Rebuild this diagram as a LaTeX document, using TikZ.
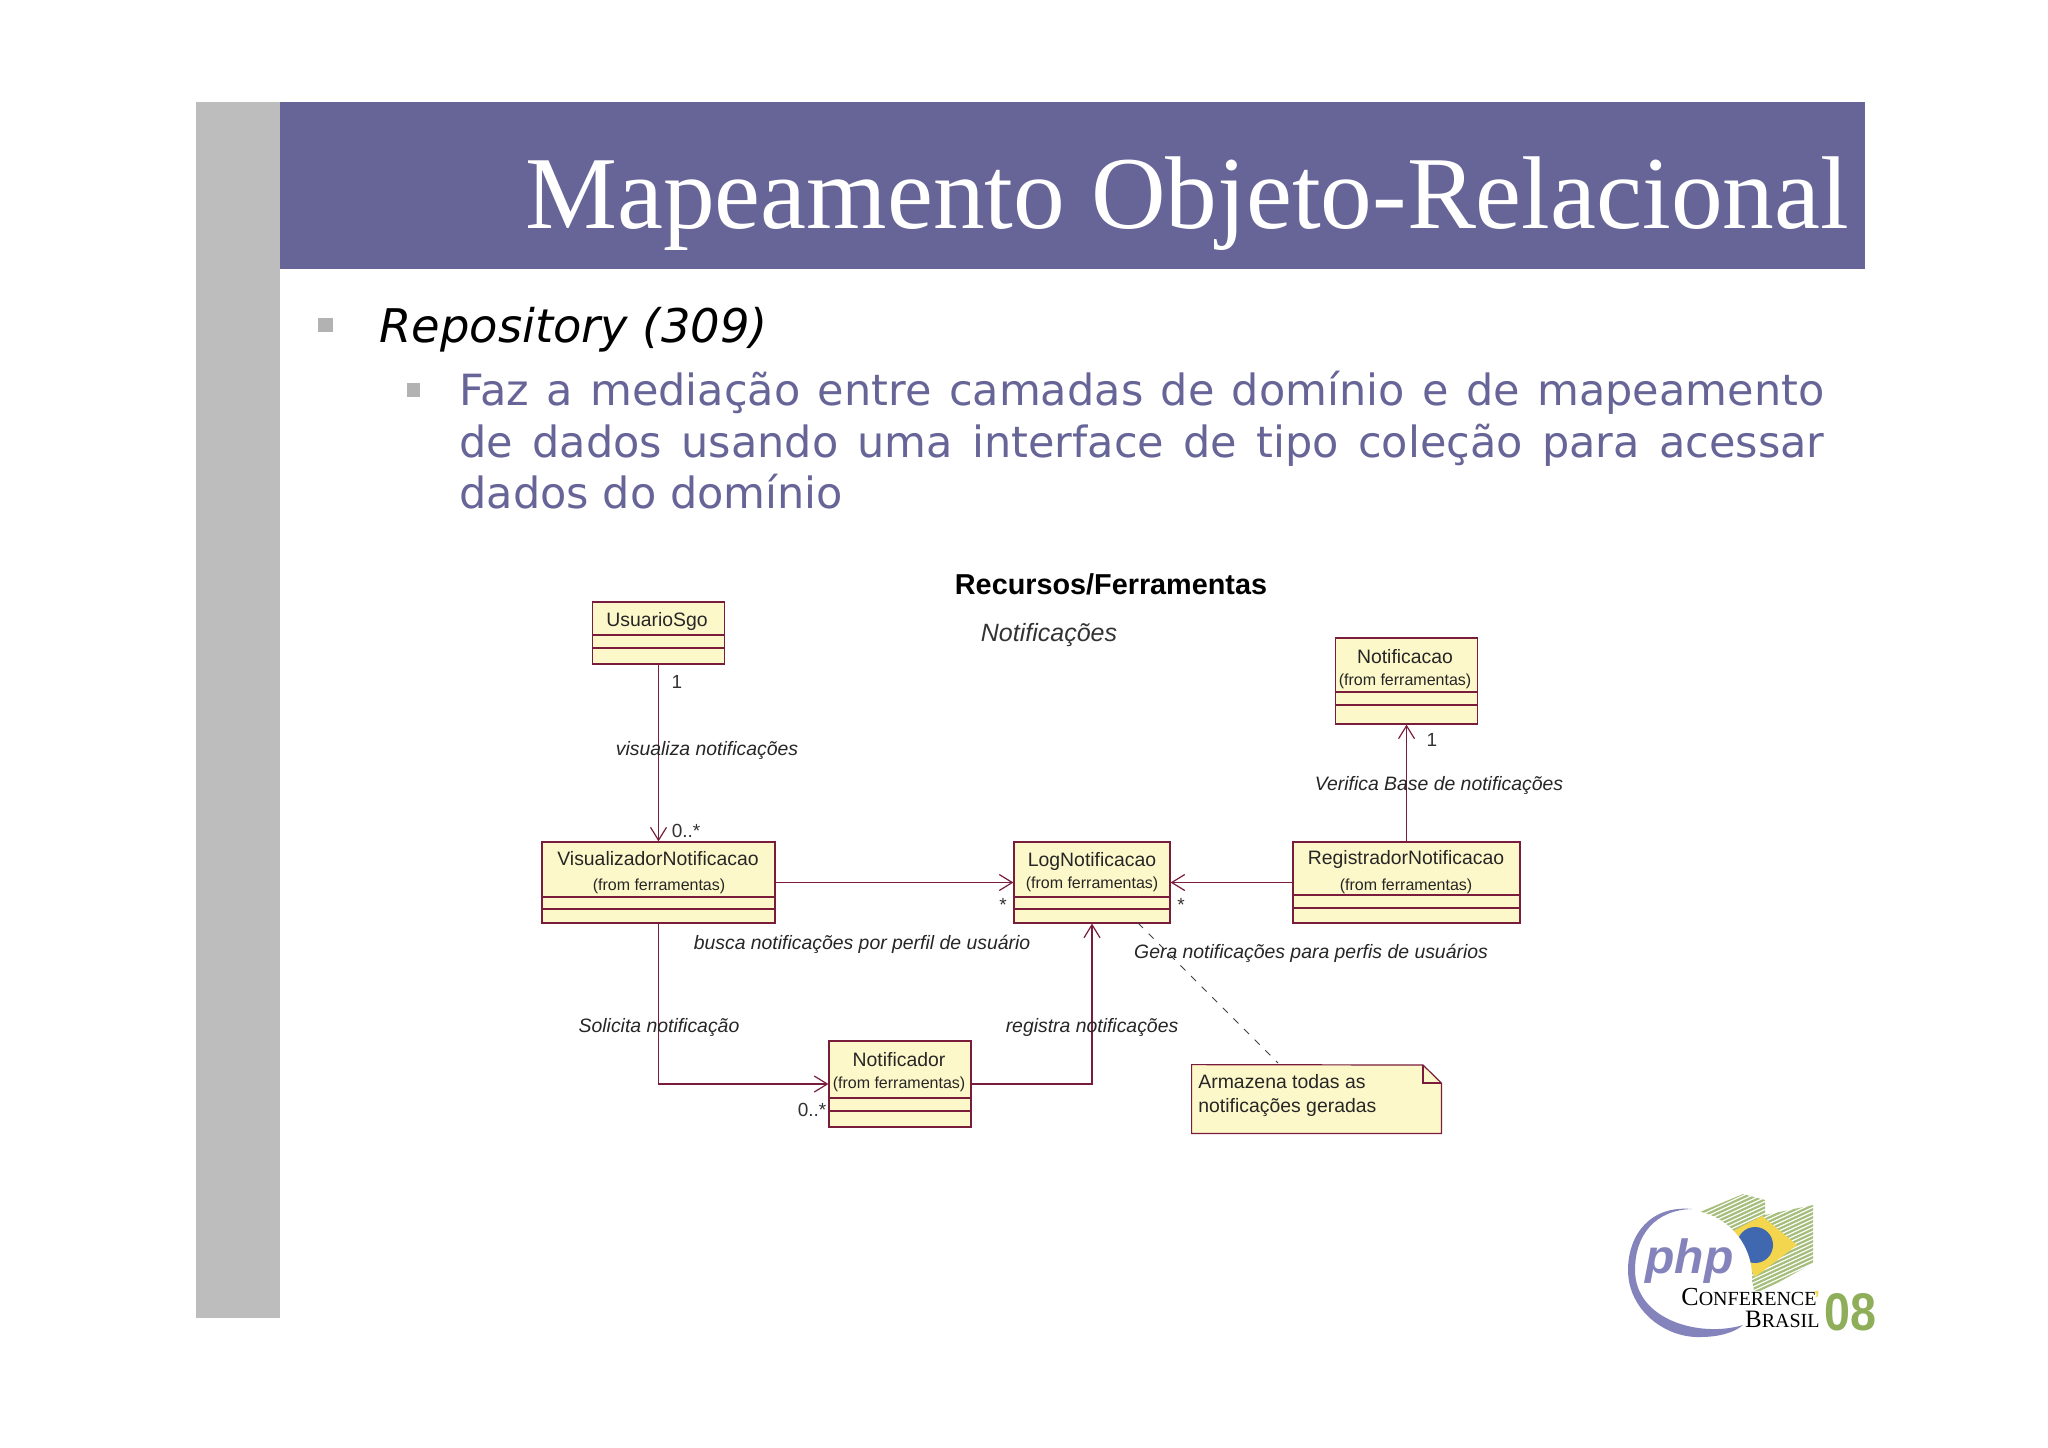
\documentclass[tikz,border=0pt]{standalone}
\usepackage{fontspec}
\usepackage{xcolor}
\usetikzlibrary{arrows.meta}
\setmainfont{Liberation Sans}
\newfontfamily\titlefont{Liberation Serif}
\newfontfamily\bodyfont{DejaVu Sans}
\definecolor{slide-blue}{HTML}{676598}
\definecolor{side-grey}{HTML}{BDBDBD}
\definecolor{bullet-grey}{HTML}{B2B2B2}
\definecolor{uml-fill}{HTML}{FDF8C9}
\definecolor{uml-line}{HTML}{7A1C3C}
\definecolor{logo-purple}{HTML}{8583BB}
\definecolor{logo-green}{HTML}{8FAE5A}
\definecolor{logo-hatch}{HTML}{A6BE7C}
\definecolor{logo-yellow}{HTML}{F3D64E}
\definecolor{logo-blue}{HTML}{3F68B0}

\begin{document}
\begin{tikzpicture}[x=0.5pt, y=-0.5pt,
          every node/.style={inner sep=0pt},
          umlbox/.style={draw=uml-line, fill=uml-fill, line width=0.6pt},
          umlsplit/.style={draw=uml-line, line width=0.6pt},
          assoc/.style={draw=uml-line, line width=0.6pt,
              -{Straight Barb[length=6.5pt, width=8pt]}},
          cname/.style={font=\fontsize{9.7}{11}\selectfont, text=black!85, yshift=-0.5pt},
          csub/.style={font=\fontsize{8}{10}\selectfont, text=black!85, yshift=-0.5pt},
          rolename/.style={font=\fontsize{9.7}{11}\selectfont\itshape, text=black!85, yshift=-1pt},
          mult/.style={font=\fontsize{9.5}{11}\selectfont, text=black!80},
          bullet/.style={fill=bullet-grey}]
        \useasboundingbox (0,0) rectangle (2048,1447);
        \fill[white] (0,0) rectangle (2048,1447);

        % Slide frame: grey side bar, title band, text
        \fill[side-grey] (196,102) rectangle (280,1318);
        \fill[slide-blue] (280,102) rectangle (1865,269);
        \node[anchor=base west, text=white, font=\titlefont\fontsize{51.7}{60}\selectfont]
              (TITLE) at (525,228) {Mapeamento Objeto-Relacional};
        \node[bullet, minimum width=7.5pt, minimum height=7pt] (B1) at (325,325) {};
        \node[anchor=base west, font=\bodyfont\itshape\fontsize{23.2}{26}\selectfont]
              (REPO) at (379,342) {Repository (309)};
        \node[bullet, minimum width=6.5pt, minimum height=7pt] (B2) at (413.5,390) {};
        \node[anchor=base west, text=slide-blue, font=\bodyfont\fontsize{21.5}{24}\selectfont]
              (L1) at (459,405) {\makebox[682.5pt][s]{Faz a mediação entre camadas de domínio e de mapeamento}};
        \node[anchor=base west, text=slide-blue, font=\bodyfont\fontsize{21.5}{24}\selectfont]
              (L2) at (459,457) {\makebox[682.5pt][s]{de dados usando uma interface de tipo coleção para acessar}};
        \node[anchor=base west, text=slide-blue, font=\bodyfont\fontsize{21.5}{24}\selectfont]
              (L3) at (459,508) {dados do domínio};

        % Diagram headings
        \node[font=\bfseries\fontsize{14.4}{16}\selectfont] (HEAD) at (1111,584) {Recursos/Ferramentas};
        \node[font=\itshape\fontsize{12.5}{14}\selectfont, text=black!80] (PKG) at (1049,635) {Notificações};

        % Classes, coordinates are (x,y) in pixels of the slide
        \node[umlbox, minimum width=66pt, minimum height=31pt] (USR) at (658.5,633) {};
        \node[umlbox, minimum width=116.5pt, minimum height=40.5pt] (VIS) at (658.5,882.5) {};
        \node[umlbox, minimum width=78pt, minimum height=40.5pt] (LOG) at (1092,882.5) {};
        \node[umlbox, minimum width=113.5pt, minimum height=40.5pt] (REG) at (1406.5,882.5) {};
        \node[umlbox, minimum width=71pt, minimum height=43pt] (NTF) at (1406.5,681) {};
        \node[umlbox, minimum width=71pt, minimum height=43pt] (NTD) at (900,1084) {};

        \draw[umlsplit] (USR.west |- 0,635) -- (USR.east |- 0,635);
        \draw[umlsplit] (USR.west |- 0,648) -- (USR.east |- 0,648);
        \draw[umlsplit] (VIS.west |- 0,897) -- (VIS.east |- 0,897);
        \draw[umlsplit] (VIS.west |- 0,909) -- (VIS.east |- 0,909);
        \draw[umlsplit] (LOG.west |- 0,897) -- (LOG.east |- 0,897);
        \draw[umlsplit] (LOG.west |- 0,909) -- (LOG.east |- 0,909);
        \draw[umlsplit] (REG.west |- 0,895) -- (REG.east |- 0,895);
        \draw[umlsplit] (REG.west |- 0,908) -- (REG.east |- 0,908);
        \draw[umlsplit] (NTF.west |- 0,692) -- (NTF.east |- 0,692);
        \draw[umlsplit] (NTF.west |- 0,705) -- (NTF.east |- 0,705);
        \draw[umlsplit] (NTD.west |- 0,1098) -- (NTD.east |- 0,1098);
        \draw[umlsplit] (NTD.west |- 0,1111) -- (NTD.east |- 0,1111);

        \node[cname] (USRN) at (657,620) {UsuarioSgo};
        \node[cname] (VISN) at (658,858) {VisualizadorNotificacao};
        \node[csub] (VISS) at (659,885) {(from ferramentas)};
        \node[cname] (LOGN) at (1092,860) {LogNotificacao};
        \node[csub] (LOGS) at (1092,883) {(from ferramentas)};
        \node[cname] (REGN) at (1406,858) {RegistradorNotificacao};
        \node[csub] (REGS) at (1406,885) {(from ferramentas)};
        \node[cname] (NTFN) at (1405,656) {Notificacao};
        \node[csub] (NTFS) at (1405,680) {(from ferramentas)};
        \node[cname] (NTDN) at (899,1059) {Notificador};
        \node[csub] (NTDS) at (899,1083) {(from ferramentas)};

        % Connectors
        \draw[assoc] (USR.south) -- (VIS.north);
        \draw[assoc] (VIS.east) -- (LOG.west);
        \draw[assoc] (REG.west) -- (LOG.east);
        \draw[assoc] (REG.north) -- (NTF.south);
        \draw[assoc] (VIS.south) |- (NTD.west);
        \draw[assoc] (NTD.east) -| (LOG.south);

        % Note with folded corner
        \node[minimum width=124.5pt, minimum height=34pt] (NOTE) at (1316.5,1099) {};
        \draw[umlbox] (NOTE.north west) -- (1423,1065) -- (NOTE.east |- 0,1083)
              -- (NOTE.south east) -- (NOTE.south west) -- cycle;
        \draw[umlsplit] (1423,1065) -- (1423,1083) -- (NOTE.east |- 0,1083);
        \node[anchor=west, cname] (NOTE1) at (1198,1081) {Armazena todas as};
        \node[anchor=west, cname] (NOTE2) at (1198,1107) {notificações geradas};
        \coordinate (DASHA) at (1138,923);
        \coordinate (DASHB) at (1278,1063);
        \draw[black!75, line width=0.5pt, dash pattern=on 3.5pt off 4pt] (DASHA) -- (DASHB);

        % Association labels and multiplicities
        \node[rolename] (LB1) at (707,748) {visualiza notificações};
        \node[rolename] (LB2) at (862,942) {busca notificações por perfil de usuário};
        \node[rolename] (LB3) at (659,1025) {Solicita notificação};
        \node[rolename] (LB4) at (1092,1025) {registra notificações};
        \node[rolename] (LB5) at (1311,951) {Gera notificações para perfis de usuários};
        \node[rolename] (LB6) at (1439,783) {Verifica Base de notificações};
        \node[mult] (M1) at (677,682) {1};
        \node[mult] (M2) at (686,831) {0..*};
        \node[mult] (M3) at (1003,905) {*};
        \node[mult] (M4) at (1181,905) {*};
        \node[mult] (M5) at (1432,740) {1};
        \node[mult] (M6) at (812,1110) {0..*};

        % Logo
        \begin{scope}
          \clip (1700,1212) -- (1743,1194) -- (1765,1200) -- (1765,1215) -- (1813,1205)
                -- (1813,1263) -- (1763,1291) -- (1754,1291) -- (1750,1270) -- (1733,1237) -- cycle;
          \foreach \i in {1210,1214,...,1330} {
            \draw[logo-hatch, line width=1.1pt] (1690,\i) -- ++(130,-60);
          }
        \end{scope}
        \fill[logo-yellow] (1731,1232) -- (1762,1216) -- (1797,1245) -- (1755,1277) -- cycle;
        \fill[logo-blue] (1755,1245) circle (18);
        \fill[white] (1685,1277) circle (67);
        \fill[logo-purple] (1692,1209) .. controls (1650,1205) and (1628,1235) .. (1628,1270)
              .. controls (1628,1310) and (1665,1338) .. (1700,1337)
              .. controls (1720,1337) and (1735,1332) .. (1743,1325)
              .. controls (1700,1338) and (1635,1320) .. (1635,1270)
              .. controls (1635,1235) and (1655,1210) .. (1692,1209) -- cycle;
        \node[anchor=base west, text=logo-purple, font=\bfseries\itshape\fontsize{24}{28}\selectfont]
              (PHP) at (1645,1273) {php};
        \node[anchor=base west, font=\titlefont\fontsize{10}{12}\selectfont]
              (CONF) at (1681,1305) {{\fontsize{13}{14}\selectfont C}ONFERENCE};
        \node[text=logo-yellow, font=\bfseries\fontsize{11}{12}\selectfont] (TICK) at (1817,1299) {'};
        \node[anchor=base east, font=\titlefont\fontsize{12.5}{14}\selectfont]
              (BRA) at (1820,1327) {B{\fontsize{10}{12}\selectfont RASIL}};
        \node[anchor=base west, text=logo-green, xscale=0.88,
              font=\bfseries\fontsize{26.5}{28}\selectfont] (YEAR) at (1824,1330) {08};
      \end{tikzpicture}
\end{document}
